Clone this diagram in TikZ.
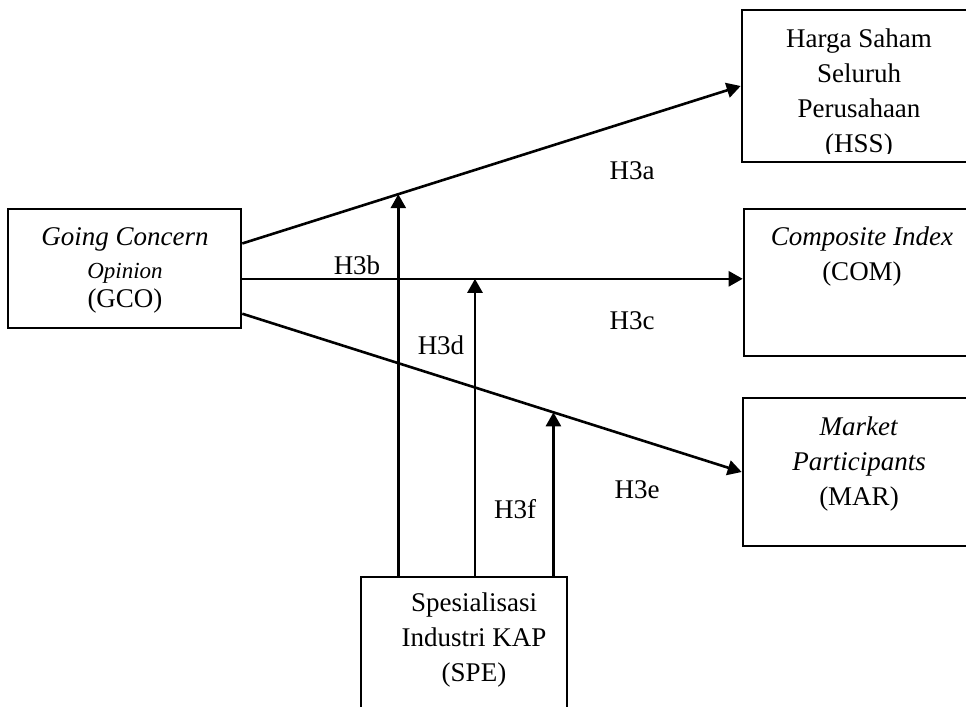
\documentclass[tikz,border=0pt]{standalone}
\usepackage{fontspec}
\setmainfont{Liberation Serif}
\usetikzlibrary{arrows.meta,fit}

\begin{document}
\begin{tikzpicture}
[x=0.5pt,y=-0.5pt,%
  every node/.style={inner sep=0pt,align=center,font=\fontsize{13.5}{17.5}\selectfont},%
  box/.style={draw,line width=1.3pt,rectangle,inner sep=0pt},%
  link/.style={-{Triangle[length=7pt,width=7.5pt]},line width=1.3pt}]
\clip (0,0) rectangle (966,707);
% boxes
\node[box,fit={(8,209) (241,328)}] (GCO) {};
\node[box,fit={(742,10) (980,162)}] (HSS) {};
\node[box,fit={(744,209) (980,356)}] (COM) {};
\node[box,fit={(743,398) (980,546)}] (MAR) {};
\node[box,fit={(361,577) (567,720)}] (SPE) {};
% box texts
\node[anchor=north] (GCO text) at (125,227)
  {\textit{Going Concern}\\[-1pt]{\fontsize{11.5}{14}\selectfont\textit{Opinion}}\\[-3pt](GCO)};
\begin{scope}
\clip (742,10) rectangle (980,153);
\node[anchor=north] (HSS text) at (859,28) {Harga Saham\\Seluruh\\Perusahaan\\(HSS)};
\end{scope}
\node[anchor=north] (COM text) at (862,226) {\textit{Composite Index}\\(COM)};
\node[anchor=north] (MAR text) at (859,416) {\textit{Market}\\\textit{Participants}\\(MAR)};
\node[anchor=north] (SPE text) at (474,592) {Spesialisasi\\Industri KAP\\(SPE)};
% paths
\draw[link] (GCO.12) -- coordinate[pos=0.313] (on HSS) (HSS.west);
\draw[link] (GCO.-5) -- coordinate[pos=0.465] (on COM) (GCO.-5 -| COM.west);
\draw[link] (GCO.-21) -- coordinate[pos=0.623] (on MAR) (MAR.west);
\draw[link] (on HSS |- SPE.north) -- (on HSS);
\draw[link] (on COM |- SPE.north) -- (on COM);
\draw[link] (on MAR |- SPE.north) -- (on MAR);
% labels
\node (H3a) at (632,171) {H3a};
\node (H3b) at (357,265) {H3b};
\node (H3c) at (632,321) {H3c};
\node (H3d) at (441,345) {H3d};
\node (H3e) at (637,490) {H3e};
\node (H3f) at (515,509) {H3f};
\end{tikzpicture}
\end{document}
